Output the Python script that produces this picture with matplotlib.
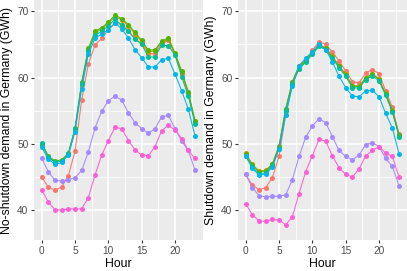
import matplotlib
matplotlib.use("Agg")
import matplotlib.pyplot as plt
import numpy as np

hours = list(range(24))
day_colors = ["#F8766D", "#C49A00", "#53B400", "#00C094", "#00B6EB", "#A58AFF", "#FB61D7"]

# no-shutdown demand (GWh), one list per day series
ns_mon = [45.0, 43.5, 43.0, 43.5, 45.2, 48.9, 56.6, 62.0, 64.9, 65.9, 67.2, 68.2, 68.0, 67.0, 65.9, 65.1,
          63.6, 63.6, 65.1, 65.6, 63.4, 60.6, 57.5, 53.3]
ns_tue = [49.8, 48.0, 47.2, 47.4, 48.4, 52.2, 59.1, 64.2, 66.8, 67.3, 68.2, 69.2, 68.7, 67.8, 66.6, 65.4,
          63.9, 64.0, 65.3, 65.8, 63.5, 60.8, 57.6, 53.4]
ns_wed = [50.0, 48.2, 47.4, 47.6, 48.6, 52.4, 59.3, 64.4, 67.0, 67.5, 68.4, 69.4, 68.9, 68.0, 66.8, 65.6,
          64.1, 64.2, 65.5, 66.0, 63.7, 61.0, 57.8, 53.5]
ns_thu = [50.2, 48.0, 47.2, 47.4, 48.5, 52.2, 59.0, 64.0, 66.4, 67.0, 67.8, 68.8, 67.9, 67.0, 65.8, 65.0,
          63.1, 63.1, 64.9, 64.8, 63.4, 60.1, 57.2, 53.0]
ns_fri = [49.5, 47.7, 46.9, 47.2, 48.3, 51.8, 58.3, 63.5, 65.9, 66.6, 67.2, 68.3, 67.3, 66.0, 64.2, 63.0,
          61.6, 61.6, 62.7, 62.9, 60.5, 58.0, 55.2, 51.2]
ns_sat = [47.8, 45.8, 44.5, 44.4, 44.6, 44.9, 46.0, 48.8, 52.4, 54.9, 56.5, 57.2, 56.6, 54.7, 53.2, 52.3,
          51.6, 52.3, 54.1, 54.3, 52.3, 50.4, 49.0, 46.0]
ns_sun = [43.1, 41.2, 40.1, 40.0, 40.2, 40.2, 40.2, 41.9, 45.3, 48.3, 50.5, 52.5, 52.3, 50.5, 49.1, 48.3,
          48.2, 49.6, 52.0, 52.8, 52.1, 50.8, 49.0, 47.8]

# shutdown demand (GWh)
sd_mon = [45.4, 43.8, 43.1, 43.4, 44.9, 48.1, 54.4, 59.0, 61.3, 62.5, 64.1, 65.4, 65.0, 63.9, 62.5, 61.0,
          59.4, 59.2, 60.7, 61.2, 60.6, 58.0, 55.5, 51.5]
sd_tue = [48.6, 46.9, 45.9, 46.0, 47.0, 49.7, 55.3, 59.4, 61.8, 62.6, 63.8, 65.0, 64.5, 63.2, 61.8, 60.5,
          58.8, 58.7, 60.0, 60.6, 59.8, 57.6, 55.1, 51.4]
sd_wed = [48.5, 46.8, 45.8, 45.9, 46.9, 49.6, 55.2, 59.3, 61.7, 62.5, 63.7, 64.9, 64.4, 63.1, 61.7, 60.4,
          58.7, 58.6, 59.9, 60.5, 59.7, 57.5, 55.0, 51.3]
sd_thu = [48.2, 46.5, 45.5, 45.6, 46.7, 49.3, 55.0, 59.1, 61.3, 62.3, 63.5, 64.7, 64.2, 62.9, 61.5, 60.2,
          58.5, 58.4, 59.7, 60.3, 59.5, 57.3, 54.8, 51.1]
sd_fri = [48.2, 46.3, 45.3, 45.4, 46.5, 49.2, 54.3, 58.7, 61.8, 62.9, 63.9, 65.0, 64.2, 62.4, 60.2, 58.5,
          57.2, 57.1, 58.0, 58.1, 57.1, 54.6, 52.4, 48.5]
sd_sat = [45.4, 43.4, 42.2, 42.0, 42.1, 42.1, 42.3, 44.6, 48.1, 51.0, 52.7, 53.8, 53.2, 51.1, 49.0, 48.1,
          47.6, 48.3, 49.9, 50.2, 49.6, 47.8, 46.6, 43.7]
sd_sun = [41.0, 39.3, 38.4, 38.3, 38.6, 38.5, 37.8, 39.0, 42.5, 45.8, 48.2, 50.7, 50.4, 48.2, 46.4, 45.4,
          45.0, 46.2, 48.2, 49.0, 49.6, 48.6, 48.1, 45.0]

no_shutdown = [ns_mon, ns_tue, ns_wed, ns_thu, ns_fri, ns_sat, ns_sun]
shutdown = [sd_mon, sd_tue, sd_wed, sd_thu, sd_fri, sd_sat, sd_sun]
panel_titles = ["No-shutdown demand in Germany (GWh)", "Shutdown demand in Germany (GWh)"]

plt.rcParams['font.family'] = ['Liberation Sans', 'DejaVu Sans']

W, H = 407, 271
fig = plt.figure(figsize=(W / 100, H / 100), dpi=100)
panels = [(34, 202.7), (238, 406.7)]

for (x0, x1), series, title in zip(panels, [no_shutdown, shutdown], panel_titles):
    ax = fig.add_axes([x0 / W, 31 / H, (x1 - x0) / W, 240 / H])
    ax.set_facecolor("#EBEBEB")
    for s in ax.spines.values():
        s.set_visible(False)
    ax.set_xlim(-1.15, 24.15)
    ax.set_ylim(35.5, 71.7)
    ax.set_xticks([0, 5, 10, 15, 20])
    ax.set_yticks([40, 50, 60, 70])
    ax.set_xticks([2.5, 7.5, 12.5, 17.5, 22.5], minor=True)
    ax.set_yticks([45, 55, 65], minor=True)
    ax.grid(which="major", color="white", linewidth=1.1)
    ax.grid(which="minor", color="white", linewidth=0.55)
    ax.set_axisbelow(True)
    ax.tick_params(which="major", length=2.5, width=0.8, color="#333333",
                   labelsize=7.3, labelcolor="#4D4D4D", pad=1.5)
    ax.tick_params(which="minor", length=0)
    for vals, col in zip(series, day_colors):
        ax.plot(hours, vals, color=col, linewidth=0.75, marker="o", markersize=3.6,
                markeredgewidth=0)
    ax.set_xlabel("Hour", fontsize=8.8, labelpad=2)
    ax.set_ylabel(title, fontsize=8.8, labelpad=3)

fig.savefig("out.png", dpi=100)
